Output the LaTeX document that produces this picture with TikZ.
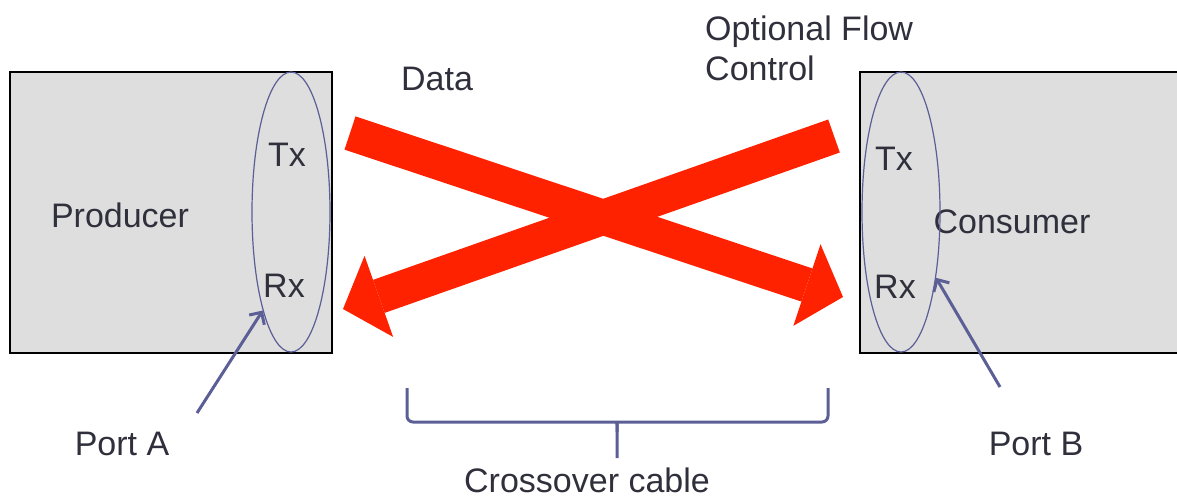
\documentclass[tikz,border=0pt]{standalone}
\usepackage{fontspec}
\setmainfont{Liberation Sans}
\usetikzlibrary{arrows.meta,shapes.geometric}
\definecolor{kastengrau}{RGB}{222,222,222}
\definecolor{kabelrot}{RGB}{255,34,0}
\definecolor{lila}{RGB}{92,94,150}
\definecolor{schrift}{RGB}{48,48,60}
\begin{document}
\begin{tikzpicture}[x=1pt, y=-1pt,
	every node/.style={text=schrift, font=\fontsize{34}{40}\selectfont},
	kasten/.style={draw=black, line width=1.5pt, fill=kastengrau,
		minimum height=281pt, inner sep=0pt},
	anschluss/.style={ellipse, draw=lila, line width=1.2pt,
		minimum width=78pt, minimum height=280pt, inner sep=0pt},
	kabel/.style={draw=kabelrot, line width=35pt,
		-{Triangle[line width=0pt, length=38pt, width=86pt]}},
	zeiger/.style={draw=lila, line width=3pt,
		-{Straight Barb[length=9pt, width=18pt]}}]
	\clip (0,0) rectangle (1177,499);
	% Kaesten
	\node[kasten, minimum width=322pt] (producer) at (171,212.5) {};
	\node[kasten, minimum width=340pt] (consumer) at (1030,212.5) {};
	\node[anchor=base] (prodtext) at (120,227) {Producer};
	\node[anchor=base] (constext) at (1012,233) {Consumer};
	% Ports
	\node[anschluss] (portsA) at (291,212) {};
	\node[anschluss] (portsB) at (901,212) {};
	\node[anchor=base] (txA) at (287,166) {Tx};
	\node[anchor=base] (rxA) at (284,297) {Rx};
	\node[anchor=base] (txB) at (894,170) {Tx};
	\node[anchor=base] (rxB) at (895,298) {Rx};
	% Kabel
	\coordinate (datenStart) at (350,133);
	\coordinate (datenEnde) at (843,297);
	\coordinate (flussStart) at (834,136);
	\coordinate (flussEnde) at (343,309);
	\draw[kabel] (datenStart) -- (datenEnde);
	\draw[kabel] (flussStart) -- (flussEnde);
	\node[anchor=base] (daten) at (437,90) {Data};
	\node[anchor=north west, align=left, inner sep=0pt] (fluss) at (705,16)
		{Optional Flow\\Control};
	% Beschriftung unten
	\node[anchor=base] (portA) at (122,455) {Port A};
	\node[anchor=base] (portB) at (1036,455) {Port B};
	\coordinate (zeigerA) at (197,413);
	\coordinate (zeigerB) at (1000,387);
	\draw[zeiger] (zeigerA) -- (portsA.254);
	\draw[zeiger] (zeigerB) -- (portsB.-62);
	% Klammer
	\coordinate (klammerL) at (407,388);
	\coordinate (klammerR) at (828,388);
	\coordinate (klammerM) at (617,458);
	\draw[lila, line width=3pt, rounded corners=6pt]
		(klammerL) |- (610,422) .. controls (617,422) .. (617,432) -- (klammerM);
	\draw[lila, line width=3pt, rounded corners=6pt]
		(klammerR) |- (624,422) .. controls (617,422) .. (617,432);
	\node[anchor=base] (kabeltext) at (587,492) {Crossover cable};
\end{tikzpicture}
\end{document}
